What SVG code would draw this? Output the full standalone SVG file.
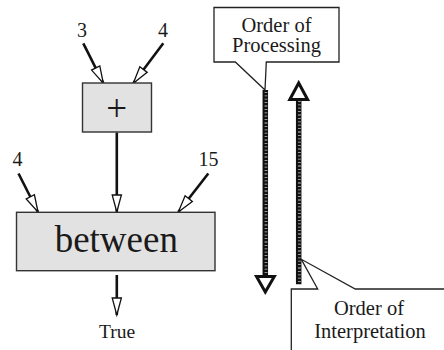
<svg xmlns="http://www.w3.org/2000/svg" width="444" height="350" viewBox="0 0 444 350">
  <style>
    text { font-family: "Liberation Serif", "Times New Roman", serif; fill: #1a1a1a; text-anchor: middle; }
    .box { fill: #e2e2e2; stroke: #333; stroke-width: 1.4; }
    .wire { fill: none; stroke: #111; stroke-width: 2.6; }
    .call { fill: #fff; stroke: #222; stroke-width: 1.3; }
    .bar { stroke: #111; stroke-width: 5.5; }
    .tick { stroke: #c8c8c8; stroke-width: 2.8; stroke-dasharray: 0.8 2.6; }
    .bighead { fill: #fff; stroke: #111; stroke-width: 3; stroke-linejoin: miter; }
  </style>
  <defs>
    <marker id="hollow" markerUnits="userSpaceOnUse" markerWidth="24" markerHeight="14" viewBox="-20 -7 22 14" refX="0" refY="0" orient="auto">
      <path d="M0,0 L-17,-4.6 L-17,4.6 Z" fill="#fff" stroke="#111" stroke-width="1.3" stroke-linejoin="miter"/>
    </marker>
  </defs>

  <rect width="444" height="350" fill="#fff"/>

  <g id="connectors">
    <line class="wire" x1="83.3" y1="43.3" x2="103.3" y2="83.2" marker-end="url(#hollow)"/>
    <line class="wire" x1="163.3" y1="43.3" x2="133.3" y2="83.2" marker-end="url(#hollow)"/>
    <line class="wire" x1="116.8" y1="132.5" x2="116.8" y2="212" marker-end="url(#hollow)"/>
    <line class="wire" x1="18.5" y1="173.5" x2="38" y2="212" marker-end="url(#hollow)"/>
    <line class="wire" x1="208.3" y1="173.5" x2="178.3" y2="212" marker-end="url(#hollow)"/>
    <line class="wire" x1="116.8" y1="275" x2="116.8" y2="315" marker-end="url(#hollow)"/>
  </g>

  <g id="label-3"><text x="82" y="36.7" font-size="20">3</text></g>
  <g id="label-4a"><text x="163" y="36.7" font-size="20">4</text></g>
  <g id="label-4b"><text x="17.5" y="165.5" font-size="20">4</text></g>
  <g id="label-15"><text x="208.5" y="165.5" font-size="20">15</text></g>

  <g id="node-plus">
    <rect class="box" x="82.5" y="83" width="69" height="49"/>
    <text x="116.8" y="120.5" font-size="37">+</text>
  </g>

  <g id="node-between">
    <rect class="box" x="16.5" y="212.3" width="198.5" height="58.4"/>
    <text x="116.3" y="252.3" font-size="37">between</text>
  </g>

  <g id="label-true"><text x="117" y="338" font-size="19.5">True</text></g>

  <g id="arrow-processing">
    <line class="bar" x1="265.3" y1="90" x2="265.3" y2="277"/>
    <line class="tick" x1="266" y1="92" x2="266" y2="276"/>
    <polygon class="bighead" points="256.5,276.5 274.3,276.5 265.3,292"/>
  </g>

  <g id="arrow-interpretation">
    <line class="bar" x1="298.7" y1="99" x2="298.7" y2="284.3"/>
    <line class="tick" x1="299.4" y1="101" x2="299.4" y2="284"/>
    <polygon class="bighead" points="289.8,99.5 307.6,99.5 298.7,83"/>
  </g>

  <g id="callout-processing">
    <path class="call" d="M235.3,62 L214,62 L214,7.5 L339,7.5 L339,62 L266.3,62 L265,90 Z"/>
    <text x="276.5" y="31.7" font-size="20.5">Order of</text>
    <text x="276.5" y="51.7" font-size="20.5">Processing</text>
  </g>

  <g id="callout-interpretation">
    <path class="call" d="M291.3,352 L291.3,289 L317.7,289 L301.3,259.3 L355.3,289 L446,289 L446,352 Z"/>
    <text x="369" y="315" font-size="20.5">Order of</text>
    <text x="370" y="338" font-size="20.5">Interpretation</text>
  </g>
</svg>
